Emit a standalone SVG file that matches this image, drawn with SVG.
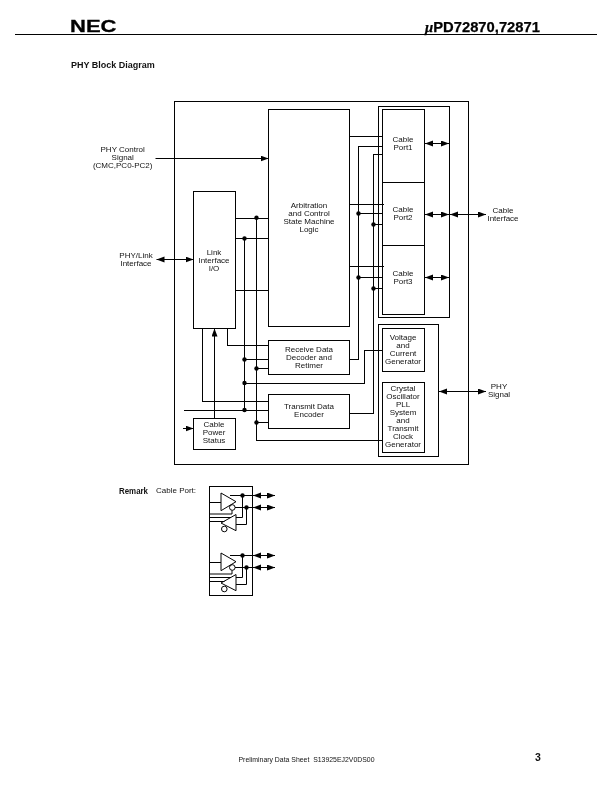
<svg xmlns="http://www.w3.org/2000/svg" xmlns:xlink="http://www.w3.org/1999/xlink" width="612" height="792" viewBox="0 0 612 792">
<style>
text{font-family:"Liberation Sans",Arial,sans-serif;fill:#111}
.t{font-size:8px;text-anchor:middle}
.b{fill:none;stroke:#000;stroke-width:1}
.w{fill:none;stroke:#000;stroke-width:1;shape-rendering:crispEdges}
.g{fill:none;stroke:#000;stroke-width:1}
.a{fill:#000;stroke:none}
</style>
<defs>
<marker id="ah" markerUnits="userSpaceOnUse" markerWidth="9" markerHeight="7" refX="8" refY="3" orient="auto-start-reverse"><path class="a" d="M0 0L8 3L0 6z"/></marker>
<circle id="d" r="2.2" class="a"/>
<g id="port">
<path class="g" d="M221 493V510.7L236 501.7zM236 514.5V530.7L221 523z"/>
<circle class="g" cx="232.3" cy="507.5" r="2.8"/>
<circle class="g" cx="224.3" cy="529" r="2.8"/>
<path class="g" d="M230 495.5H252.5M235 507.5H252.5M242.5 495.5V517.5H236M246.5 507.5V524.5H236M209.5 502.5H221M209.5 514H232V510.3M209.5 517.5H231M209.5 521.5H224.5"/>
<use xlink:href="#d" href="#d" x="242.5" y="495.5"/>
<use xlink:href="#d" href="#d" x="246.5" y="507.5"/>
<path class="g" d="M253 495.5H275" marker-start="url(#ah)" marker-end="url(#ah)"/>
<path class="g" d="M253 507.5H275" marker-start="url(#ah)" marker-end="url(#ah)"/>
</g>
</defs>
<rect width="612" height="792" fill="#fff"/>
<g style="opacity:.995">
<g id="header">
<text x="70" y="31.7" font-size="16.5" font-weight="700" textLength="46.5" lengthAdjust="spacingAndGlyphs" style="fill:#000;stroke:#000;stroke-width:.3">NEC</text>
<path class="w" d="M15 34.5H597"/>
<text x="425" y="31.7" font-size="15" font-weight="700" textLength="115" lengthAdjust="spacingAndGlyphs" style="fill:#000;stroke:#000;stroke-width:.25"><tspan font-style="italic" font-family="Liberation Serif">μ</tspan>PD72870,72871</text>
<text x="71" y="68" font-size="9" font-weight="700">PHY Block Diagram</text>
</g>
<g id="connectors">
<path class="w" d="M349.5 136.5H382M358.5 359.5V146.5H382M349.5 359.5H358.5M373.5 413.5V154.5H382M349.5 413.5H373.5M349.5 204.5H384M349.5 266.5H384M358.5 213.5H382M358.5 277.5H382M373.5 224.5H382M373.5 288.5H382"/>
<path class="w" d="M364.5 350.5H382M364.5 350V383.5H244.5"/>
<path class="w" d="M382 440.5H256.5V218.5"/>
<path class="w" d="M235.5 218.5H268.5M235.5 238.5H268.5M235.5 290.5H268.5M244.5 238.5V410.5"/>
<path class="w" d="M227.5 328.5V345.5H268.5M202.5 328.5V401.5H268.5M183.5 410.5H268.5M244.5 359.5H268.5M256.5 368.5H268.5M256.5 422.5H268.5"/>
<path class="g" d="M214.5 418.5V328.5" marker-end="url(#ah)"/>
<path class="g" d="M183 428.5H193.5" marker-end="url(#ah)"/>
<path class="g" d="M155.5 158.5H268.5" marker-end="url(#ah)"/>
<path class="g" d="M156.5 259.5H193.5" marker-start="url(#ah)" marker-end="url(#ah)"/>
<path class="g" d="M425 143.5H449" marker-start="url(#ah)" marker-end="url(#ah)"/>
<path class="g" d="M425 214.5H449" marker-start="url(#ah)" marker-end="url(#ah)"/>
<path class="g" d="M425 277.5H449" marker-start="url(#ah)" marker-end="url(#ah)"/>
<path class="g" d="M450 214.5H486" marker-start="url(#ah)" marker-end="url(#ah)"/>
<path class="g" d="M439 391.5H486" marker-start="url(#ah)" marker-end="url(#ah)"/>
<use xlink:href="#d" href="#d" x="256.5" y="217.7"/>
<use xlink:href="#d" href="#d" x="244.5" y="238.5"/>
<use xlink:href="#d" href="#d" x="358.5" y="213.5"/>
<use xlink:href="#d" href="#d" x="358.5" y="277.5"/>
<use xlink:href="#d" href="#d" x="373.5" y="224.5"/>
<use xlink:href="#d" href="#d" x="373.5" y="288.5"/>
<use xlink:href="#d" href="#d" x="244.5" y="359.5"/>
<use xlink:href="#d" href="#d" x="256.5" y="368.5"/>
<use xlink:href="#d" href="#d" x="244.5" y="383"/>
<use xlink:href="#d" href="#d" x="244.5" y="410"/>
<use xlink:href="#d" href="#d" x="256.5" y="422.5"/>
</g>
<rect id="phy-outline" class="b" x="174.5" y="101.5" width="294" height="363"/>
<g id="arbitration"><rect class="b" x="268.5" y="109.5" width="81" height="217"/>
<text class="t" x="309" y="208">Arbitration</text><text class="t" x="309" y="216">and Control</text><text class="t" x="309" y="224">State Machine</text><text class="t" x="309" y="232">Logic</text></g>
<g id="link"><rect class="b" x="193.5" y="191.5" width="42" height="137"/>
<text class="t" x="214" y="254.5">Link</text><text class="t" x="214" y="262.5">Interface</text><text class="t" x="214" y="270.5">I/O</text></g>
<g id="cable-ports"><rect class="b" x="378.5" y="106.5" width="71" height="211"/>
<rect class="b" x="382.5" y="109.5" width="42" height="205"/>
<path class="w" d="M382.5 182.5H425M382.5 245.5H425"/>
<text class="t" x="403" y="142">Cable</text><text class="t" x="403" y="150">Port1</text>
<text class="t" x="403" y="212">Cable</text><text class="t" x="403" y="220">Port2</text>
<text class="t" x="403" y="276">Cable</text><text class="t" x="403" y="284">Port3</text></g>
<g id="receive"><rect class="b" x="268.5" y="340.5" width="81" height="34"/>
<text class="t" x="309" y="352">Receive Data</text><text class="t" x="309" y="360">Decoder and</text><text class="t" x="309" y="368">Retimer</text></g>
<g id="transmit"><rect class="b" x="268.5" y="394.5" width="81" height="34"/>
<text class="t" x="309" y="409">Transmit Data</text><text class="t" x="309" y="417">Encoder</text></g>
<g id="power"><rect class="b" x="193.5" y="418.5" width="42" height="31"/>
<text class="t" x="214" y="427">Cable</text><text class="t" x="214" y="435">Power</text><text class="t" x="214" y="443">Status</text></g>
<g id="generators"><rect class="b" x="378.5" y="324.5" width="60" height="132"/></g>
<g id="voltage"><rect class="b" x="382.5" y="328.5" width="42" height="43"/>
<text class="t" x="403" y="340">Voltage</text><text class="t" x="403" y="348">and</text><text class="t" x="403" y="356">Current</text><text class="t" x="403" y="364">Generator</text></g>
<g id="crystal"><rect class="b" x="382.5" y="382.5" width="42" height="70"/>
<text class="t" x="403" y="391">Crystal</text><text class="t" x="403" y="399">Oscillator</text><text class="t" x="403" y="407">PLL</text><text class="t" x="403" y="415">System</text><text class="t" x="403" y="423">and</text><text class="t" x="403" y="431">Transmit</text><text class="t" x="403" y="439">Clock</text><text class="t" x="403" y="447">Generator</text></g>
<g id="labels">
<text class="t" x="122.7" y="152">PHY Control</text><text class="t" x="122.7" y="160">Signal</text><text class="t" x="122.7" y="168">(CMC,PC0-PC2)</text>
<text class="t" x="136" y="258">PHY/Link</text><text class="t" x="136" y="266">Interface</text>
<text class="t" x="503" y="213">Cable</text><text class="t" x="503" y="221">Interface</text>
<text class="t" x="499" y="389">PHY</text><text class="t" x="499" y="397">Signal</text>
</g>
<g id="remark">
<text x="119" y="494" font-size="8.5" font-weight="700" textLength="29" lengthAdjust="spacingAndGlyphs">Remark</text>
<text x="156" y="493" font-size="8">Cable Port:</text>
<rect class="b" x="209.5" y="486.5" width="43" height="109"/>
<use xlink:href="#port" href="#port"/>
<use xlink:href="#port" href="#port" y="60"/>
</g>
<g id="footer">
<text x="306.5" y="762" font-size="6.9" text-anchor="middle">Preliminary Data Sheet &#160;S13925EJ2V0DS00</text>
<text x="535" y="761" font-size="10.5" font-weight="700">3</text>
</g>
</g>
</svg>
